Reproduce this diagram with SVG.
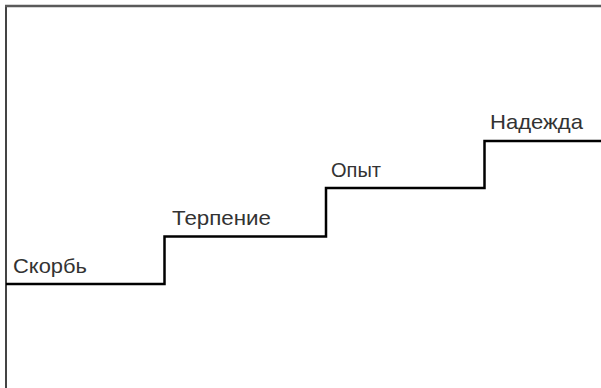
<svg xmlns="http://www.w3.org/2000/svg" width="601" height="388" viewBox="0 0 601 388">
<style>
.frame{fill:none;stroke:#444;stroke-width:2}
.top{fill:none;stroke:#5a5a5a;stroke-width:2.5}
.step{fill:none;stroke:#000;stroke-width:2.5;stroke-linejoin:miter}
.lbl{font-family:"Liberation Sans",Arial,sans-serif;font-size:21px;fill:#333}
</style>
<rect width="601" height="388" fill="#fff"/>
<g id="frame">
<path class="frame" d="M6,388 V6"/>
<path class="top" d="M5,6 H601"/>
</g>
<g id="connectors">
<path class="step" d="M6,284 H164.5 V236.5 H326 V188 H484.5 V141 H601"/>
</g>
<g id="node-skorb"><text class="lbl" x="13" y="273" textLength="74" lengthAdjust="spacingAndGlyphs">Скорбь</text></g>
<g id="node-terpenie"><text class="lbl" x="172" y="225" textLength="99" lengthAdjust="spacingAndGlyphs">Терпение</text></g>
<g id="node-opyt"><text class="lbl" x="331" y="177" textLength="50" lengthAdjust="spacingAndGlyphs">Опыт</text></g>
<g id="node-nadezhda"><text class="lbl" x="490" y="129" textLength="93" lengthAdjust="spacingAndGlyphs">Надежда</text></g>
</svg>
